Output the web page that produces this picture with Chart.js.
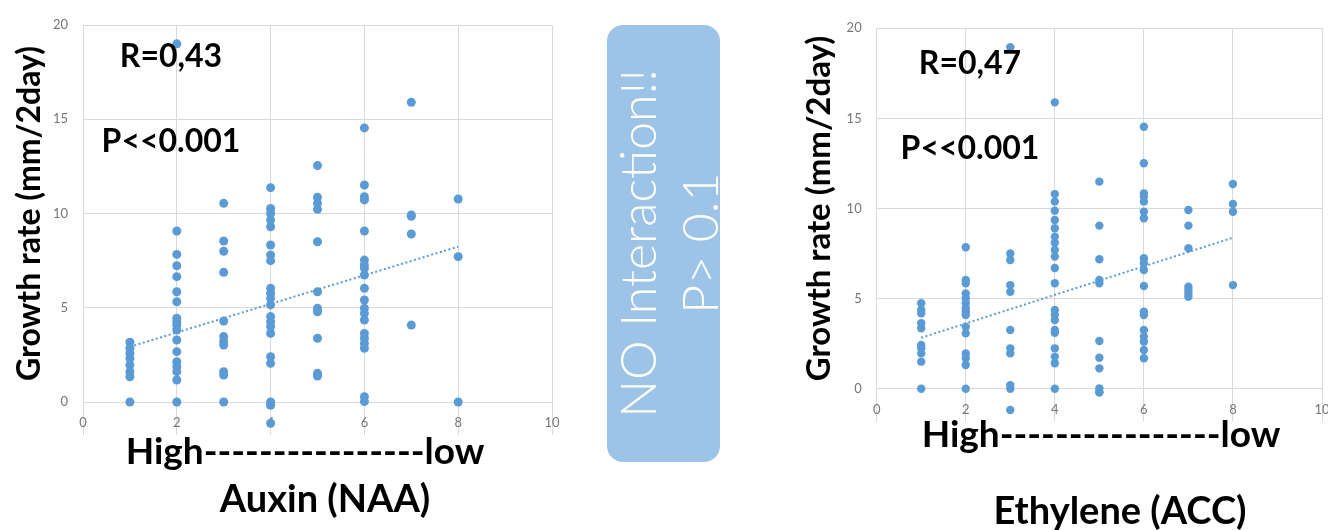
<!DOCTYPE html>
<html>
<head>
<meta charset="utf-8">
<script src="https://cdn.jsdelivr.net/npm/chart.js@4.4.1/dist/chart.umd.min.js"></script>
<style>
    body { margin: 0; width: 1328px; height: 530px; overflow: hidden; background: #fff; position: relative; font-family: Lato, "Open Sans", sans-serif; }
    .wrap { position: absolute; top: 0; }
    .note { position: absolute; font-weight: 700; color: #000; white-space: nowrap; line-height: 1; transform: translate(-50%, -50%); }
    #box { position: absolute; left: 607px; top: 25px; width: 113px; height: 437px; background: #9dc3e6; border-radius: 16px;
           display: flex; align-items: center; justify-content: center; }
    #box div { writing-mode: vertical-rl; transform: rotate(180deg); color: #fff; font-weight: 300; font-size: 50px;
               line-height: 62px; text-align: center; white-space: nowrap; margin-left: 8px; }
</style>
</head>
<body>
<div class="wrap" style="left:0"><canvas id="auxin-chart" width="580" height="530"></canvas></div>
<div class="wrap" style="left:780px"><canvas id="ethylene-chart" width="560" height="530"></canvas></div>

<div id="box"><div>NO Interaction!!<br>P&gt; 0.1</div></div>

<div class="note" style="left:171px;top:55px;font-size:32px">R=0,43</div>
<div class="note" style="left:171px;top:140px;font-size:32px">P&lt;&lt;0.001</div>
<div class="note" style="left:305px;top:449px;font-size:37px">High----------------low</div>
<div class="note" style="left:325px;top:497px;font-size:38px">Auxin (NAA)</div>

<div class="note" style="left:970px;top:62px;font-size:32px">R=0,47</div>
<div class="note" style="left:970px;top:147px;font-size:32px">P&lt;&lt;0.001</div>
<div class="note" style="left:1101px;top:432px;font-size:37px">High----------------low</div>
<div class="note" style="left:1120px;top:509px;font-size:38px">Ethylene (ACC)</div>

<script>
// Dose levels (x) and measured growth rates per level (y)
const doseLevels = [1, 2, 3, 4, 5, 6, 7, 8];

const auxinGrowth = [
    [3.17, 2.85, 2.58, 2.31, 1.96, 1.61, 1.34, 0],
    [19, 9.07, 7.83, 7.23, 6.65, 5.85, 5.32, 4.44, 4.26, 4.08, 3.82, 3.29, 2.67, 2.14, 1.87, 1.61, 1.17, 0],
    [10.54, 8.54, 8.0, 6.88, 4.3, 3.47, 3.2, 3.02, 1.61, 1.43, 0],
    [11.37, 10.27, 10.0, 9.65, 9.3, 8.33, 7.8, 7.5, 6.03, 5.77, 5.5, 5.15, 4.53, 4.26, 4.0, 3.64, 2.4, 2.05, 0, -0.16, -1.13],
    [12.54, 10.86, 10.54, 10.22, 8.5, 5.85, 4.97, 4.79, 3.38, 1.52, 1.38],
    [14.54, 11.51, 10.89, 10.72, 9.07, 7.53, 7.27, 7.09, 6.74, 6.03, 5.41, 4.97, 4.7, 4.35, 3.64, 3.38, 3.11, 2.85, 0.28, 0.02],
    [15.9, 9.92, 9.85, 8.91, 4.08],
    [10.77, 7.71, 0]
];

const ethyleneGrowth = [
    [4.74, 4.37, 4.18, 3.63, 3.35, 2.43, 2.24, 1.96, 1.5, 0],
    [7.85, 6.03, 5.85, 5.29, 5.02, 4.74, 4.46, 4.27, 4.09, 3.44, 3.07, 1.96, 1.69, 1.31, 0],
    [18.95, 7.5, 7.14, 5.75, 5.38, 3.26, 2.24, 1.96, 0.2, 0, -1.18],
    [15.89, 10.8, 10.38, 9.88, 9.36, 8.9, 8.44, 8.1, 7.7, 7.33, 6.7, 5.85, 4.37, 4.09, 3.81, 3.26, 3.1, 2.24, 1.78, 1.41, 0],
    [11.49, 9.05, 7.18, 6.03, 5.85, 2.65, 1.72, 1.13, 0.02, -0.2],
    [14.54, 12.51, 10.84, 10.66, 10.38, 9.82, 9.46, 7.24, 6.96, 6.59, 5.7, 4.27, 4.09, 3.26, 2.89, 2.61, 2.15, 1.69],
    [9.92, 9.05, 7.79, 5.66, 5.48, 5.29, 5.1],
    [11.36, 10.25, 9.82, 5.75]
];

// Linear trend lines (end points)
const auxinTrendX = [1, 8];
const auxinTrendY = [2.93, 8.24];
const ethyleneTrendX = [1, 8];
const ethyleneTrendY = [2.83, 8.38];

// Axis ticks
const xTickStep = 2;
const yTickStep = 5;

Chart.defaults.font.family = 'Lato, "Open Sans", sans-serif';

// Points below the axis are skipped by Chart.js, draw them anyway
const overflowPoints = {
    id: 'overflowPoints',
    afterDatasetsDraw(chart) {
        const meta = chart.getDatasetMeta(0);
        const area = chart.chartArea;
        const big = { left: -1e4, top: -1e4, right: 1e4, bottom: 1e4 };
        meta.data.forEach(el => {
            if (el.y > area.bottom + 1 || el.y < area.top - 1) {
                el.draw(chart.ctx, big);
            }
        });
    }
};

function toPoints(levels, growth) {
    const pts = [];
    levels.forEach((lvl, i) => {
        growth[i].forEach(v => pts.push({ x: lvl, y: v }));
    });
    return pts;
}

function makeChart(id, growth, trendX, trendY, opt) {
    const canvas = document.getElementById(id);
    const gridColor = '#d9d9d9';
    new Chart(canvas, {
        type: 'scatter',
        data: {
            datasets: [{
                data: toPoints(doseLevels, growth),
                backgroundColor: '#5b9bd5',
                borderWidth: 0,
                pointRadius: opt.r,
                pointHoverRadius: opt.r,
                clip: false,
                order: 1
            }, {
                type: 'line',
                data: trendX.map((x, i) => ({ x: x, y: trendY[i] })),
                borderColor: '#5b9bd5',
                borderWidth: 2,
                borderDash: [2, 2.5],
                pointRadius: 0,
                fill: false,
                order: 0
            }]
        },
        options: {
            responsive: false,
            animation: false,
            events: [],
            layout: { padding: { top: opt.top, right: opt.right, left: 0, bottom: 0 } },
            plugins: { legend: { display: false }, tooltip: { enabled: false } },
            scales: {
                x: {
                    type: 'linear',
                    min: 0,
                    max: 10,
                    ticks: { stepSize: xTickStep, color: '#767676', font: { size: 13 }, padding: -20 },
                    grid: { color: gridColor, tickColor: gridColor, tickLength: 33 },
                    border: { color: gridColor },
                    afterFit(s) { s.height = opt.xh; }
                },
                y: {
                    min: 0,
                    max: 20,
                    ticks: { stepSize: yTickStep, color: '#767676', font: { size: 13 }, padding: 15 },
                    grid: { color: gridColor, drawTicks: false },
                    border: { color: gridColor },
                    title: {
                        display: true,
                        text: 'Growth rate (mm/2day)',
                        color: '#000',
                        font: { size: opt.ts, weight: 'bold' },
                        padding: { top: opt.tp, bottom: 0 }
                    },
                    afterFit(s) { s.width = opt.yw; }
                }
            }
        },
        plugins: [overflowPoints]
    });
}

document.addEventListener('DOMContentLoaded', function() {
    makeChart('auxin-chart', auxinGrowth, auxinTrendX, auxinTrendY,
        { top: 25, right: 28, xh: 128, yw: 83, tp: 10, ts: 32, r: 4.5 });
    makeChart('ethylene-chart', ethyleneGrowth, ethyleneTrendX, ethyleneTrendY,
        { top: 28.3, right: 18, xh: 141.3, yw: 96.7, tp: 20, ts: 33, r: 4.2 });
});
</script>
</body>
</html>
